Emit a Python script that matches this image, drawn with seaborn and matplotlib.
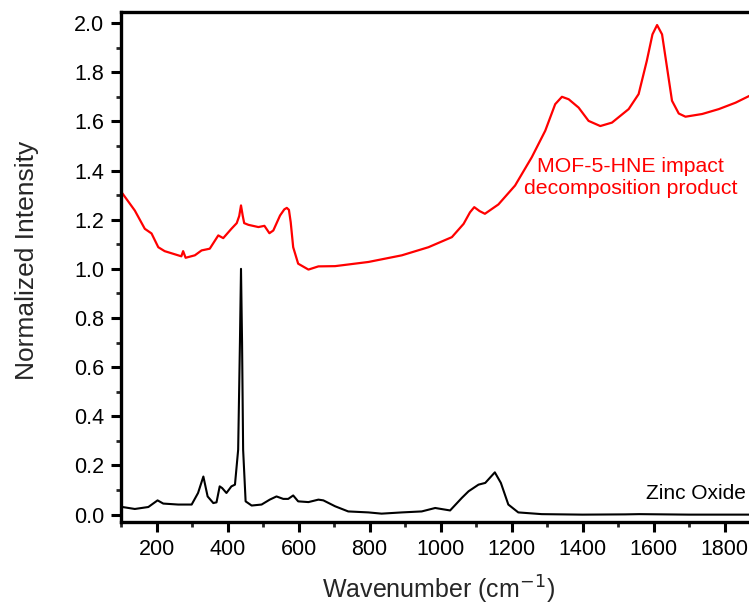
import matplotlib
matplotlib.use("Agg")
import matplotlib.pyplot as plt
import seaborn as sns
import pandas as pd
from matplotlib.ticker import MultipleLocator

# MOF-5-HNE impact decomposition product (red)
mof_x = [104, 139, 167, 186, 205, 223, 261, 270, 275, 282, 308, 327, 350, 374, 388,
         411, 426, 433, 438, 443, 447, 459, 487, 504, 518, 529, 548, 560, 567, 573,
         578, 585, 599, 628, 656, 703, 797, 891, 966, 1032, 1065, 1083, 1095, 1110,
         1125, 1163, 1210, 1257, 1295, 1323, 1342, 1361, 1389, 1417, 1450, 1483,
         1530, 1558, 1581, 1597, 1610, 1624, 1638, 1652, 1671, 1690, 1737, 1784,
         1831, 1876]
mof_y = [1.307, 1.237, 1.163, 1.144, 1.088, 1.072, 1.055, 1.051, 1.072, 1.045, 1.055,
         1.075, 1.082, 1.136, 1.125, 1.163, 1.186, 1.215, 1.258, 1.215, 1.186, 1.179,
         1.170, 1.175, 1.145, 1.156, 1.217, 1.242, 1.248, 1.240, 1.190, 1.088, 1.021,
         0.997, 1.010, 1.011, 1.028, 1.055, 1.088, 1.129, 1.183, 1.230, 1.251, 1.235,
         1.224, 1.262, 1.339, 1.454, 1.562, 1.670, 1.700, 1.690, 1.656, 1.602, 1.581,
         1.595, 1.650, 1.711, 1.846, 1.954, 1.992, 1.954, 1.819, 1.684, 1.632, 1.619,
         1.630, 1.650, 1.676, 1.708]

# Zinc oxide (black)
zno_x = [104, 139, 177, 203, 219, 261, 299, 317, 332, 344, 360, 369, 378, 385, 397,
         411, 421, 430, 435, 438, 441, 444, 451, 468, 496, 519, 538, 557, 571, 585,
         599, 628, 656, 670, 703, 740, 797, 834, 891, 947, 985, 1027, 1060, 1079,
         1107, 1126, 1153, 1170, 1191, 1219, 1285, 1400, 1520, 1560, 1700, 1876]
zno_y = [0.031, 0.023, 0.031, 0.058, 0.045, 0.041, 0.041, 0.088, 0.155, 0.074, 0.047,
         0.050, 0.115, 0.108, 0.088, 0.115, 0.122, 0.264, 0.700, 1.000, 0.700, 0.264,
         0.054, 0.037, 0.041, 0.061, 0.074, 0.064, 0.064, 0.078, 0.054, 0.051, 0.061,
         0.058, 0.034, 0.013, 0.009, 0.004, 0.009, 0.013, 0.027, 0.017, 0.068, 0.095,
         0.122, 0.129, 0.172, 0.129, 0.041, 0.009, 0.002, 0.0, 0.001, 0.002, 0.0, 0.0]

x_ticks = [200, 400, 600, 800, 1000, 1200, 1400, 1600, 1800]
y_ticks = [0.0, 0.2, 0.4, 0.6, 0.8, 1.0, 1.2, 1.4, 1.6, 1.8, 2.0]

sns.set_theme(style="ticks")
plt.rcParams['font.family'] = ['Liberation Sans', 'DejaVu Sans']

fig = plt.figure(figsize=(7.49, 6.08), dpi=100)
ax_w = 1 - 121/749 + 0.01
ax = fig.add_axes([121/749, 1 - 522/608, ax_w, (522 - 12)/608])

df_mof = pd.DataFrame({"x": mof_x, "y": mof_y})
df_zno = pd.DataFrame({"x": zno_x, "y": zno_y})
sns.lineplot(data=df_mof, x="x", y="y", ax=ax, color="#ff0000", lw=1.6, sort=False)
sns.lineplot(data=df_zno, x="x", y="y", ax=ax, color="black", lw=1.5, sort=False)

ax.set_xlim(100, 1890)
ax.set_ylim(-0.03, 2.045)
ax.set_xticks(x_ticks)
ax.set_yticks(y_ticks)
ax.set_yticklabels([f"{v:.1f}" for v in y_ticks])
ax.xaxis.set_minor_locator(MultipleLocator(100))
ax.yaxis.set_minor_locator(MultipleLocator(0.1))
ax.tick_params(which="major", direction="out", length=7, width=2.2, labelsize=15.5,
               colors="black", pad=5)
ax.tick_params(which="minor", direction="out", length=3.5, width=2.0)
for s in ["left", "bottom", "top"]:
    ax.spines[s].set_linewidth(2.4)
    ax.spines[s].set_color("black")
ax.spines["right"].set_visible(False)

ax_w_px = ax_w * 749
ax.set_xlabel("Wavenumber (cm$^{-1}$)", fontsize=18)
ax.xaxis.label.set_va("top")
ax.xaxis.set_label_coords((438 - 121) / ax_w_px, (522 - 574) / 510)
ax.set_ylabel("Normalized Intensity", fontsize=19)
ax.yaxis.label.set_va("center")
ax.yaxis.set_label_coords((27 - 121) / ax_w_px, (522 - 260) / 510)

ax.text(1536, 1.373, "MOF-5-HNE impact\ndecomposition product", color="#ff0000",
        fontsize=15.3, ha="center", va="center", linespacing=1.2)
ax.text(1860, 0.085, "Zinc Oxide", color="black", fontsize=15, ha="right", va="center")

fig.savefig("out.png", dpi=100)
